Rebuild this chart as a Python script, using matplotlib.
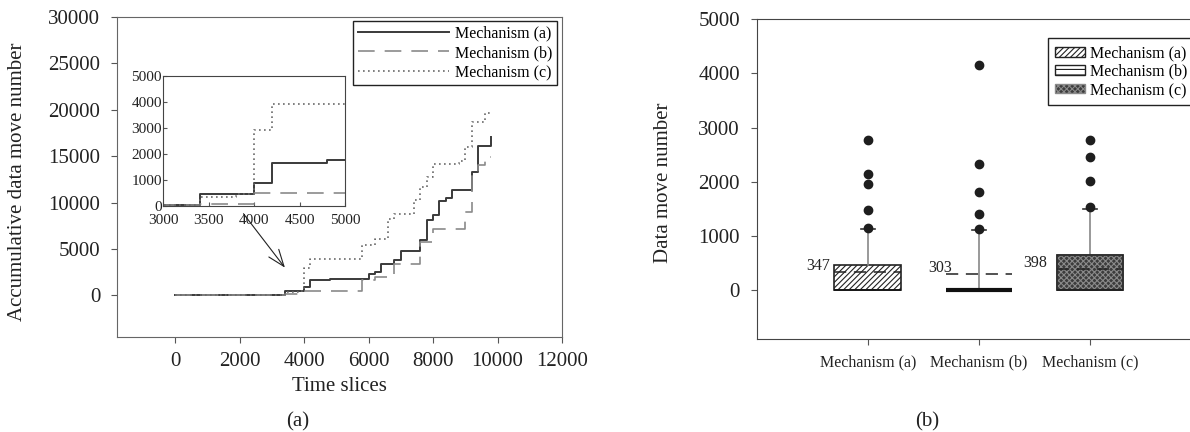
import matplotlib
matplotlib.use('Agg')
import matplotlib.pyplot as plt
from matplotlib.patches import Patch, Rectangle

plt.rcParams['font.family'] = ['Liberation Serif', 'DejaVu Serif']
plt.rcParams['hatch.linewidth'] = 0.8

# panel (a): cumulative data moves, step changes (time slice, value after the step)
labels = ['Mechanism (a)', 'Mechanism (b)', 'Mechanism (c)']
t_a = [0, 3400, 4000, 4200, 4800, 6000, 6200, 6400, 6800, 7000, 7600, 7800, 8000, 8200, 8400, 8600, 9200, 9400, 9800]
v_a = [30, 470, 870, 1640, 1750, 2240, 2500, 3360, 3830, 4770, 5920, 8100, 8700, 10200, 10500, 11400, 13300, 16100, 17100]
t_b = [0, 3400, 4000, 5800, 6200, 6800, 7600, 8000, 9000, 9200, 9400, 9600, 9800]
v_b = [20, 90, 500, 1600, 2000, 3400, 5780, 7150, 9000, 13100, 14000, 14900, 14900]
t_c = [0, 3400, 3800, 4000, 4200, 5800, 6200, 6600, 6800, 7400, 7600, 7800, 8000, 8800, 9000, 9200, 9600, 9800]
v_c = [40, 330, 450, 2910, 3920, 5400, 6100, 8200, 8800, 10250, 11700, 12800, 14200, 14500, 16000, 18700, 19600, 19600]

# panel (b): box plot statistics
box_names = ['Mechanism (a)', 'Mechanism (b)', 'Mechanism (c)']
q1 = [0, 0, 0]
medians = [0, 0, 0]
q3 = [474, 0, 660]
whis_hi = [1140, 1110, 1500]
means = [347, 303, 398]
fliers = [[1150, 1490, 1960, 2150, 2770],
          [1130, 1400, 1820, 2330, 4150],
          [1540, 2020, 2450, 2780]]

line_styles = [dict(color='#3a3a3a', ls='-', lw=1.4),
               dict(color='#8a8a8a', ls=(0, (10, 6)), lw=1.2),
               dict(color='#6a6a6a', ls=(0, (1, 2)), lw=1.2)]

fig = plt.figure(figsize=(11.9, 4.32), dpi=100)

# ---- left panel
ax = fig.add_axes([0.0983, 0.2199, 0.374, 0.7407])
for t, v, lab, st in zip([t_a, t_b, t_c], [v_a, v_b, v_c], labels, line_styles):
    ax.step(t, v, where='post', label=lab, **st)
ax.set_xlim(-1800, 12000)
ax.set_ylim(-4500, 30000)
ax.set_xticks(range(0, 12001, 2000))
ax.set_yticks(range(0, 30001, 5000))
ax.tick_params(direction='out', length=4, labelsize=15, pad=7, colors='#555', labelcolor='#222')
ax.tick_params(axis='y', pad=8)
for s in ax.spines.values():
    s.set_color('#666')
ax.set_xlabel('Time slices', fontsize=15, color='#222')
ax.set_ylabel('Accumulative data move number', fontsize=15, color='#222')
ax.xaxis.set_label_coords(0.5, -0.125)
ax.yaxis.set_label_coords(-0.202, 0.485)
leg = ax.legend(loc='upper right', bbox_to_anchor=(0.989, 0.9875), borderaxespad=0,
                fontsize=11.5, handlelength=5.7, handletextpad=0.4, labelspacing=0.2,
                borderpad=0.3, fancybox=False, framealpha=1)
leg.get_frame().set_edgecolor('#222')
leg.get_frame().set_linewidth(1.0)

ax.annotate('', xy=(3460, 2740), xytext=(2070, 9030),
            arrowprops=dict(arrowstyle='->,head_length=1.2,head_width=0.45', lw=0.8, color='#222'))

# inset
axi = fig.add_axes([0.1372, 0.5231, 0.1527, 0.3021])
for t, v, st in zip([t_a, t_b, t_c], [v_a, v_b, v_c], line_styles):
    axi.step(t, v, where='post', **st)
axi.set_xlim(3000, 5000)
axi.set_ylim(0, 5000)
axi.set_xticks(range(3000, 5001, 500))
axi.set_yticks(range(0, 5001, 1000))
axi.tick_params(direction='in', length=3, labelsize=11, pad=1, colors='#555', labelcolor='#222')
axi.tick_params(axis='x', pad=6)
for s in axi.spines.values():
    s.set_color('#444')

# ---- right panel
bx = fig.add_axes([0.6359, 0.2146, 0.3734, 0.7414])
stats = []
for i in range(3):
    stats.append(dict(label=box_names[i], q1=q1[i], med=medians[i], q3=q3[i],
                      whislo=q1[i], whishi=whis_hi[i], mean=means[i], fliers=fliers[i]))
pos = [1, 2, 3]
bp = bx.bxp(stats, positions=pos, widths=0.6, patch_artist=True, showmeans=True, meanline=True,
            capwidths=0.13,
            boxprops=dict(lw=1.2),
            medianprops=dict(color='#111', lw=1.2),
            meanprops=dict(color='#222', ls=(0, (8, 5)), lw=1.1),
            whiskerprops=dict(color='#888', lw=1.2),
            capprops=dict(color='#333', lw=1.2),
            flierprops=dict(marker='o', markerfacecolor='#1e1e1e', markeredgecolor='#1e1e1e', markersize=6))
hatches = ['//////', '---', 'xxxxxx']
faces = ['white', 'white', '#3c3c3c']
hcols = ['#222', '#222', '#8a8a8a']
for p, h, f, hc in zip(bp['boxes'], hatches, faces, hcols):
    p.set_facecolor(f)
    p.set_hatch(h)
    p.set_edgecolor(hc)
# outline for the dark box (its hatch is light)
bx.add_patch(Rectangle((pos[2] - 0.3, q1[2]), 0.6, q3[2] - q1[2], fill=False, ec='#222', lw=1.2, zorder=3))
bp['medians'][1].set_linewidth(3)

label_dx = [-0.34, -0.24, -0.39]
for i in range(3):
    bx.text(pos[i] + label_dx[i], means[i] + 110, str(means[i]), ha='right', va='center',
            fontsize=11.5, color='#222')

bx.set_xlim(0, 4)
bx.set_ylim(-900, 5000)
bx.set_yticks(range(0, 5001, 1000))
bx.set_xticks(pos)
bx.set_xticklabels(box_names, fontsize=11.5)
bx.tick_params(direction='out', length=4, colors='#555', labelcolor='#222')
bx.tick_params(axis='y', labelsize=15, pad=8)
bx.tick_params(axis='x', pad=7)
for s in bx.spines.values():
    s.set_color('#444')
bx.spines['right'].set_visible(False)
bx.set_ylabel('Data move number', fontsize=15, color='#222')
bx.yaxis.set_label_coords(-0.189, 0.49)

handles = [Patch(facecolor=f, edgecolor=hc, hatch=h) for f, h, hc in zip(faces, hatches, hcols)]
leg2 = bx.legend(handles, labels, loc='upper left', bbox_to_anchor=(0.655, 0.94), borderaxespad=0,
                 fontsize=11.5, handlelength=1.9, handleheight=0.55, handletextpad=0.3,
                 labelspacing=0.15, borderpad=0.45, fancybox=False, framealpha=1)
leg2.get_frame().set_edgecolor('#222')
leg2.get_frame().set_linewidth(1.0)

fig.text(298 / 1190, 1 - 422 / 432, '(a)', fontsize=15, ha='center', va='center', color='#222')
fig.text(927 / 1190, 1 - 422 / 432, '(b)', fontsize=15, ha='center', va='center', color='#222')

fig.savefig('out.png', dpi=100)
